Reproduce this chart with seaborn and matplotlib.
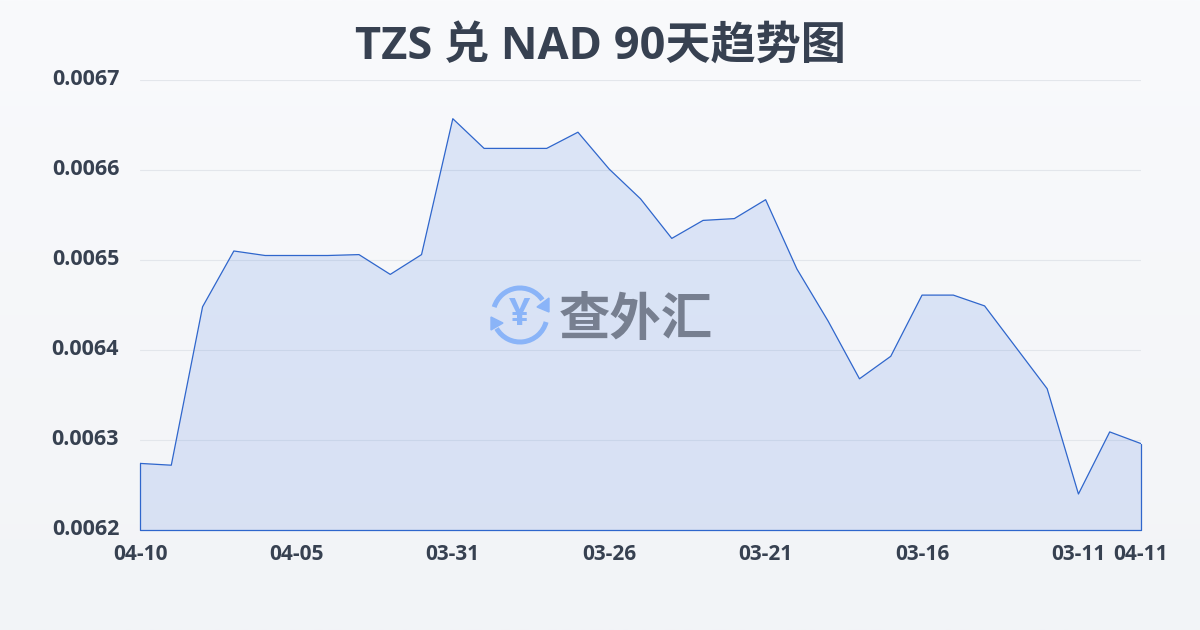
import numpy as np
import pandas as pd
import seaborn as sns
import matplotlib.pyplot as plt
from matplotlib.patches import Arc, Polygon
from matplotlib.transforms import ScaledTranslation

# Data
dates = ['04-10', '04-09', '04-08', '04-07', '04-06', '04-05', '04-04', '04-03', '04-02', '04-01', '03-31',
         '03-30', '03-29', '03-28', '03-27', '03-26', '03-25', '03-24', '03-23', '03-22', '03-21',
         '03-20', '03-19', '03-18', '03-17', '03-16', '03-15', '03-14', '03-13', '03-12', '03-11',
         '03-10', '04-11']
rates = [0.006274, 0.006272, 0.006448, 0.006510, 0.006505, 0.006505, 0.006505, 0.006506, 0.006484, 0.006506, 0.006657,
         0.006624, 0.006624, 0.006624, 0.006642, 0.006601, 0.006568, 0.006524, 0.006544, 0.006546, 0.006567,
         0.006490, 0.006432, 0.006368, 0.006393, 0.006461, 0.006461, 0.006449, 0.006403, 0.006357, 0.006240,
         0.006309, 0.006296]
shown_dates = ['04-10', '04-05', '03-31', '03-26', '03-21', '03-16', '03-11', '04-11']
y_ticks = [0.0062, 0.0063, 0.0064, 0.0065, 0.0066, 0.0067]

title_text = 'TZS 兑 NAD 90天趋势图'
logo_text = '查外汇'

df = pd.DataFrame({'date': dates, 'rate': rates})

sns.set_theme(style='white')
plt.rcParams['font.family'] = ['Open Sans', 'Noto Sans CJK SC', 'DejaVu Sans']

dark = '#374151'
blue = '#2f66cc'

fig = plt.figure(figsize=(12, 6.3), dpi=100)

# page background, soft vertical gradient
bg = fig.add_axes([0, 0, 1, 1], zorder=0)
bg.imshow(np.linspace(0, 1, 256).reshape(-1, 1), aspect='auto', extent=[0, 1200, 630, 0],
          cmap=sns.blend_palette(['#f9fafc', '#f2f4f7'], as_cmap=True))
bg.set_xlim(0, 1200)
bg.set_ylim(630, 0)
bg.axis('off')

ax = fig.add_axes([140 / 1200, 100 / 630, 1001 / 1200, 450 / 630], zorder=1)
ax.patch.set_alpha(0)

sns.lineplot(data=df, x='date', y='rate', sort=False, color=blue, linewidth=0.9, ax=ax, zorder=3)
pos = np.arange(len(dates))
ax.fill_between(pos, rates, y_ticks[0], facecolor='#3f74e0', alpha=0.15, edgecolor='none', zorder=2)
ax.plot([0, 0, len(dates) - 1, len(dates) - 1], [rates[0], y_ticks[0], y_ticks[0], rates[-1]],
        color=blue, linewidth=0.9, zorder=3, clip_on=False)

ax.set_xlim(0, len(dates) - 1)
ax.set_ylim(y_ticks[0], y_ticks[-1])
ax.set_xticks([dates.index(d) for d in shown_dates])
ax.set_xticklabels(shown_dates, fontsize=15, fontweight='bold', color=dark)
ax.set_yticks(y_ticks)
ax.set_yticklabels([f'{v:.4f}' for v in y_ticks], fontsize=15.5, fontweight='bold', color=dark)
ax.tick_params(axis='x', length=7, width=0.8, color='#e2e5ea', pad=3)
ax.tick_params(axis='y', length=0, pad=15)
# y labels sit a little above their grid lines
nudge = ScaledTranslation(0, 2 / 72, fig.dpi_scale_trans)
for lab in ax.get_yticklabels():
    lab.set_verticalalignment('center_baseline')
    lab.set_transform(lab.get_transform() + nudge)
ax.grid(axis='y', color='#e3e6eb', linewidth=0.8)
ax.set_axisbelow(True)
ax.set_xlabel('')
ax.set_ylabel('')
sns.despine(ax=ax, left=True, bottom=True)

fig.text(600 / 1200, 1 - 47 / 630, title_text, ha='center', va='center', fontsize=32.5, fontweight='bold', color=dark)

# watermark logo in pixel coordinates, y runs downwards here
over = fig.add_axes([0, 0, 1, 1], zorder=2)
over.set_xlim(0, 1200)
over.set_ylim(630, 0)
over.axis('off')
icon = '#8ab4f8'
cx, cy = 520, 315
over.add_patch(Arc((cx, cy), 54, 54, theta1=197, theta2=326, color=icon, linewidth=3.6))
over.add_patch(Arc((cx, cy), 54, 54, theta1=15, theta2=150, color=icon, linewidth=3.6))
over.add_patch(Polygon([(549, 298), (549, 312), (537, 307)], closed=True, color=icon))
over.add_patch(Polygon([(491, 317), (491, 330), (503, 323)], closed=True, color=icon))
over.text(cx, cy, '¥', ha='center', va='center', fontsize=27, fontweight='bold', color=icon)
over.text(636, 319, logo_text, ha='center', va='center', fontsize=37, fontweight='bold',
          family=['Noto Sans CJK SC'], color='#777f90')

fig.savefig('out.png', dpi=100)
